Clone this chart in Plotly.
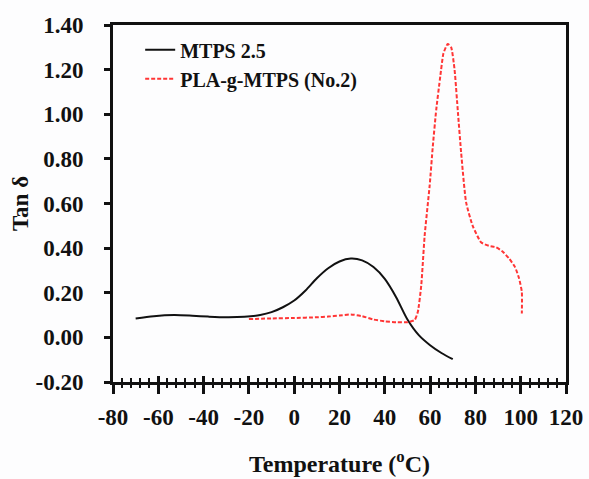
import plotly.graph_objects as go

# Tan delta vs temperature for the two samples
mtps_temp = [-70, -62, -53, -45, -38, -30, -22, -15, -10, -5, 0, 5, 10, 15, 20,
             25, 30, 35, 40, 45, 50, 55, 60, 65, 70]
mtps_tan = [0.085, 0.095, 0.100, 0.097, 0.093, 0.090, 0.092, 0.100, 0.113, 0.135,
            0.165, 0.210, 0.265, 0.310, 0.340, 0.353, 0.345, 0.315, 0.262, 0.180,
            0.080, 0.010, -0.035, -0.070, -0.098]

pla_temp = [-20, -10, 0, 10, 15, 20, 25, 30, 35, 40, 45, 50, 53.2, 54.6, 56.1,
            57.6, 59.8, 61.2, 62.7, 64.5, 65.9, 67.8, 69.3, 70.8, 72.3, 73.7, 75.9,
            78.8, 82.5, 86, 89.1, 92, 94.9, 97.5, 99.3, 100.5, 100.5]
pla_tan = [0.082, 0.085, 0.087, 0.090, 0.093, 0.098, 0.103, 0.095, 0.080, 0.072,
           0.068, 0.068, 0.078, 0.115, 0.234, 0.456, 0.680, 0.857, 1.020, 1.170,
           1.273, 1.315, 1.300, 1.200, 1.006, 0.828, 0.605, 0.500, 0.426, 0.410,
           0.404, 0.385, 0.353, 0.315, 0.264, 0.204, 0.107]

series_names = ["MTPS 2.5", "PLA-g-MTPS (No.2)"]

x_ticks = list(range(-80, 121, 20))
y_ticks = [-0.2, 0.0, 0.2, 0.4, 0.6, 0.8, 1.0, 1.2, 1.4]
y_labels = [f"{v:.2f}" for v in y_ticks]

FONT = "Liberation Serif"
INK = "#111111"

fig = go.Figure()
fig.add_trace(go.Scatter(
    x=mtps_temp, y=mtps_tan, mode="lines", name=series_names[0],
    line=dict(color=INK, width=2, shape="spline", smoothing=0.8),
))
fig.add_trace(go.Scatter(
    x=pla_temp, y=pla_tan, mode="lines", name=series_names[1],
    line=dict(color="#ff3535", width=2, dash="4px,2px", shape="spline", smoothing=0.5),
))

tick_font = dict(family=FONT, size=23, color=INK, weight="bold")

fig.update_layout(
    width=589, height=479,
    margin=dict(l=113, r=23, t=25, b=97),
    paper_bgcolor="#fdfdfe",
    plot_bgcolor="#fdfdfe",
    showlegend=True,
    legend=dict(
        x=0.06, y=0.985, xanchor="left", yanchor="top",
        bgcolor="rgba(0,0,0,0)",
        font=dict(family=FONT, size=20, color=INK, weight="bold"),
        tracegroupgap=0,
    ),
    xaxis=dict(
        range=[-80, 120], tickvals=x_ticks, ticktext=[str(v) for v in x_ticks],
        showgrid=False, zeroline=False, automargin=False,
        showline=True, linecolor=INK, linewidth=3, mirror=True,
        ticks="outside", ticklen=9, tickwidth=3, tickcolor=INK,
        minor=dict(dtick=4, tick0=-80, ticks="outside", ticklen=3, tickwidth=2, tickcolor=INK),
        tickfont=tick_font, ticklabelstandoff=3,
        title=dict(text="Temperature (<sup>o</sup>C)",
                   font=dict(family=FONT, size=24, color=INK, weight="bold"),
                   standoff=27),
    ),
    xaxis2=dict(
        overlaying="x", anchor="y", side="bottom", range=[-80, 120],
        tickvals=x_ticks, showticklabels=False, showgrid=False, zeroline=False,
        showline=False, automargin=False,
        ticks="inside", ticklen=6, tickwidth=3, tickcolor=INK,
        minor=dict(dtick=4, tick0=-80, ticks="inside", ticklen=4, tickwidth=2, tickcolor=INK),
    ),
    yaxis=dict(
        range=[-0.2, 1.4], tickvals=y_ticks, ticktext=y_labels,
        showgrid=False, zeroline=False, automargin=False,
        showline=True, linecolor=INK, linewidth=3, mirror=True,
        ticks="outside", ticklen=6, tickwidth=3, tickcolor=INK,
        tickfont=tick_font, ticklabelstandoff=16,
        title=dict(text="Tan δ",
                   font=dict(family=FONT, size=23, color=INK, weight="bold"),
                   standoff=1),
    ),
)

# invisible trace so the overlaying axis is rendered
fig.add_trace(go.Scatter(x=[None], y=[None], xaxis="x2", showlegend=False, hoverinfo="skip"))

fig.write_html("out.html")
